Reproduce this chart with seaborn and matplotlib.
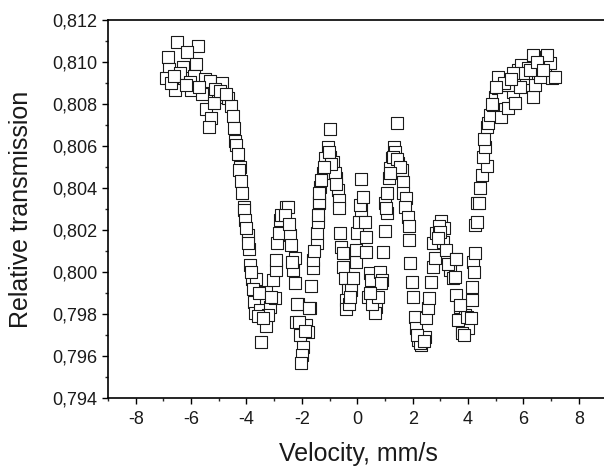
import matplotlib
matplotlib.use("Agg")
import matplotlib.pyplot as plt
import seaborn as sns
import pandas as pd
from matplotlib.ticker import MultipleLocator, FuncFormatter

# Data (velocity mm/s, relative transmission)
left_wing_v = [-6.51, -5.76, -6.15, -6.85, -5.81, -6.30, -6.78, -6.90, -6.26, -5.90, -5.51, -5.31, -4.87,
               -6.57, -6.72, -5.99, -5.59, -5.03, -4.67, -4.55, -5.45, -5.19, -4.49, -5.27, -5.36, -4.46,
               -4.40, -4.39, -4.31, -4.22, -4.28, -4.21, -4.15, -4.09, -6.40, -6.05, -5.70, -6.60, -6.20,
               -5.15, -4.95, -4.75]
left_wing_t = [0.81094, 0.81078, 0.81046, 0.81022, 0.80990, 0.80978, 0.80965, 0.80922, 0.80925, 0.80933,
               0.80918, 0.80910, 0.80901, 0.80867, 0.80900, 0.80867, 0.80848, 0.80835, 0.80827, 0.80792,
               0.80775, 0.80803, 0.80743, 0.80732, 0.80689, 0.80684, 0.80625, 0.80605, 0.80562, 0.80501,
               0.80486, 0.80435, 0.80375, 0.80311, 0.80950, 0.80905, 0.80880, 0.80935, 0.80890, 0.80870,
               0.80860, 0.80850]

dip1_v = [-4.10, -4.05, -3.96, -3.92, -3.86, -3.79, -3.64, -3.77, -3.74, -3.70, -3.52, -3.28, -3.48, -3.31,
          -3.16, -3.22, -3.06, -2.95, -2.92, -2.88, -2.84, -2.80, -2.74, -2.56, -2.98, -3.60, -3.40, -3.55,
          -3.10, -3.95, -4.00, -3.82]
dip1_t = [0.80295, 0.80248, 0.80176, 0.80110, 0.80033, 0.79967, 0.79965, 0.79918, 0.79859, 0.79803,
          0.79819, 0.79743, 0.79668, 0.79906, 0.79832, 0.79795, 0.79962, 0.80010, 0.80057, 0.80137,
          0.80184, 0.80248, 0.80271, 0.80311, 0.79875, 0.79790, 0.79780, 0.79900, 0.79880, 0.80140,
          0.80210, 0.80000]

dip2_v = [-2.50, -2.62, -2.44, -2.38, -2.26, -2.32, -2.26, -2.14, -1.72, -2.20, -1.84, -1.78, -2.08, -1.96,
          -1.98, -2.02, -1.66, -1.60, -1.60, -1.47, -1.47, -1.42, -1.42, -1.38, -2.18, -2.10, -1.90, -1.75,
          -2.35, -1.55, -2.45]
dip2_t = [0.80311, 0.80271, 0.80176, 0.80129, 0.80065, 0.80010, 0.79946, 0.79848, 0.79827, 0.79763,
          0.79748, 0.79716, 0.79700, 0.79644, 0.79605, 0.79568, 0.79933, 0.80018, 0.80057, 0.80137,
          0.80184, 0.80240, 0.80271, 0.80327, 0.79850, 0.79760, 0.79720, 0.79830, 0.80050, 0.80100,
          0.80230]

peak1_v = [-0.99, -1.06, -0.99, -0.87, -1.17, -1.24, -0.75, -1.36, -0.69, -1.38, -0.66, -1.11, -0.81, -1.38,
           -1.02, -0.93, -1.20, -1.30, -0.78]
peak1_t = [0.80681, 0.80594, 0.80549, 0.80525, 0.80541, 0.80470, 0.80446, 0.80406, 0.80390, 0.80335,
           0.80343, 0.80501, 0.80470, 0.80375, 0.80570, 0.80515, 0.80500, 0.80440, 0.80420]

center_v = [-0.66, -0.63, -0.57, -0.51, -0.51, -0.45, -0.33, -0.39, -0.39, -0.21, -0.15, -0.05, -0.03, -0.01,
            0.07, 0.15, 0.09, 0.27, 0.33, 0.33, 0.45, 0.51, 0.39, 0.63, 0.69, 0.63, 0.81, 0.91, 0.93, 0.99,
            1.06, 0.99, 0.15, 0.21, -0.30, -0.25, 0.55, 0.75, 0.85, 0.45]
center_t = [0.80303, 0.80184, 0.80120, 0.80089, 0.80025, 0.79970, 0.79914, 0.79867, 0.79822, 0.79914,
            0.79970, 0.80049, 0.80105, 0.80184, 0.80240, 0.80295, 0.80319, 0.80240, 0.80168, 0.80097,
            0.79994, 0.79962, 0.79882, 0.79875, 0.79835, 0.79803, 0.80002, 0.79962, 0.80097, 0.80197,
            0.80280, 0.80327, 0.80441, 0.80356, 0.79850, 0.79880, 0.79850, 0.79880, 0.79950, 0.79900]

peak2_v = [1.42, 1.32, 1.36, 1.24, 1.48, 1.60, 1.17, 1.15, 1.66, 1.08, 1.66, 1.75, 1.03, 1.72,
           1.30, 1.45, 1.55, 1.20]
peak2_t = [0.80711, 0.80597, 0.80573, 0.80541, 0.80518, 0.80486, 0.80494, 0.80446, 0.80430, 0.80375,
           0.80378, 0.80351, 0.80303, 0.80311, 0.80550, 0.80540, 0.80500, 0.80470]

dip3_v = [1.84, 1.87, 1.87, 1.92, 1.99, 2.02, 2.08, 2.11, 2.20, 2.32, 2.44, 2.50, 2.56, 2.59, 2.65, 2.74,
          2.80, 2.74, 2.86, 3.04, 3.13, 3.10, 3.22, 3.34, 3.46, 3.56, 3.56, 3.70, 3.89, 3.77, 4.00, 4.13,
          4.13, 4.19, 4.25, 4.31, 2.25, 2.15, 2.40, 2.95, 3.00, 2.92, 3.28, 3.64, 3.80, 3.95, 3.52, 3.70,
          4.21, 4.25, 4.33, 3.58, 4.10, 3.85]
dip3_t = [0.80263, 0.80219, 0.80152, 0.80044, 0.79954, 0.79882, 0.79787, 0.79732, 0.79676, 0.79652,
          0.79692, 0.79780, 0.79827, 0.79875, 0.79954, 0.80025, 0.80065, 0.80137, 0.80184, 0.80244,
          0.80208, 0.80144, 0.80105, 0.80010, 0.79970, 0.80061, 0.79890, 0.79835, 0.79795, 0.79724,
          0.79732, 0.79867, 0.79930, 0.80049, 0.80224, 0.80327, 0.79660, 0.79700, 0.79670, 0.80220,
          0.80190, 0.80160, 0.80040, 0.79771, 0.79708, 0.79784, 0.79975, 0.79843, 0.80002, 0.80089,
          0.80240, 0.80061, 0.79780, 0.79700]

right_wing_v = [4.40, 4.43, 4.49, 4.67, 4.55, 4.61, 4.57, 4.67, 4.73, 4.81, 4.91, 4.97, 5.09, 5.07, 5.19,
                5.27, 5.45, 5.63, 5.69, 5.75, 5.81, 5.93, 6.11, 6.17, 6.35, 6.41, 6.35, 6.57, 6.81, 6.96,
                6.78, 7.05, 7.14, 6.60, 5.99, 5.63, 5.45, 5.87, 6.86, 5.30, 5.55, 6.25, 6.50, 6.70, 4.85,
                5.00]
right_wing_t = [0.80330, 0.80399, 0.80462, 0.80505, 0.80549, 0.80597, 0.80632, 0.80692, 0.80711, 0.80748,
                0.80795, 0.80835, 0.80875, 0.80930, 0.80740, 0.80835, 0.80780, 0.80859, 0.80803, 0.80906,
                0.80962, 0.80986, 0.80922, 0.80970, 0.80835, 0.80891, 0.81033, 0.80986, 0.81025, 0.80994,
                0.80938, 0.80922, 0.80930, 0.80930, 0.80946, 0.80946, 0.80891, 0.80883, 0.81033, 0.80900,
                0.80920, 0.80960, 0.81000, 0.80960, 0.80800, 0.80880]

x_ticks = [-8, -6, -4, -2, 0, 2, 4, 6, 8]
y_ticks = [0.794, 0.796, 0.798, 0.800, 0.802, 0.804, 0.806, 0.808, 0.810, 0.812]

velocity = (left_wing_v + dip1_v + dip2_v + peak1_v + center_v + peak2_v + dip3_v + right_wing_v)
transmission = (left_wing_t + dip1_t + dip2_t + peak1_t + center_t + peak2_t + dip3_t + right_wing_t)
df = pd.DataFrame({"velocity": velocity, "transmission": transmission})

sns.set_style("white")
plt.rcParams['font.family'] = ['Liberation Sans', 'DejaVu Sans']
plt.rcParams['axes.unicode_minus'] = False

fig = plt.figure(figsize=(6.04, 4.70), dpi=100)
ax = fig.add_axes([108/604, 1 - 398/470, (609 - 108)/604, (398 - 20)/470])

sns.scatterplot(data=df, x="velocity", y="transmission", ax=ax, marker="s", s=66,
                facecolor="white", edgecolor="#1a1a1a", linewidth=0.8, zorder=3, clip_on=False)

ax.set_xlim(-9, 9 * (609 - 357.5) / (606.5 - 357.5))
ax.set_ylim(0.794, 0.812)
ax.set_xticks(x_ticks)
ax.set_yticks(y_ticks)
ax.xaxis.set_minor_locator(MultipleLocator(1))
ax.yaxis.set_minor_locator(MultipleLocator(0.001))
ax.yaxis.set_major_formatter(FuncFormatter(lambda v, p: f"{v:.3f}".replace(".", ",")))
ax.xaxis.set_major_formatter(FuncFormatter(lambda v, p: f"{int(round(v))}"))

ax.tick_params(axis="both", which="major", direction="out", length=4.5, width=1.0,
               labelsize=13, colors="black", labelcolor="#1a1a1a", bottom=True, left=True, pad=3)
ax.tick_params(axis="x", which="major", pad=5)
ax.tick_params(axis="both", which="minor", direction="out", length=2.5, width=1.0,
               bottom=True, left=True)
for sp in ax.spines.values():
    sp.set_visible(True)
    sp.set_color("black")
    sp.set_linewidth(1.2)

ax.set_xlabel("Velocity, mm/s", fontsize=18, labelpad=10, color="#1a1a1a")
ax.set_ylabel("Relative transmission", fontsize=18, labelpad=14, color="#1a1a1a")
ax.grid(False)

fig.savefig("out.png", dpi=100)
